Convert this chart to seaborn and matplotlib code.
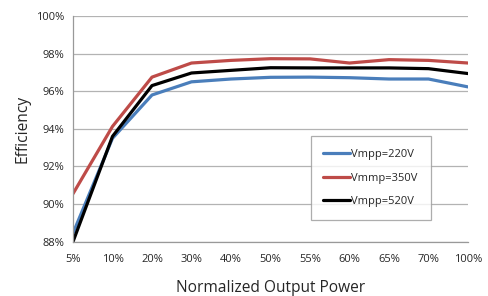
import matplotlib
matplotlib.use("Agg")
import matplotlib.pyplot as plt
import seaborn as sns
import pandas as pd
import numpy as np

categories = ["5%", "10%", "20%", "30%", "40%", "50%", "55%", "60%", "65%", "70%", "100%"]
v220 = [88.45, 93.5, 95.8, 96.5, 96.65, 96.74, 96.75, 96.72, 96.65, 96.65, 96.23]
v350 = [90.55, 94.13, 96.75, 97.5, 97.64, 97.73, 97.72, 97.5, 97.68, 97.64, 97.5]
v520 = [88.0, 93.6, 96.3, 96.97, 97.11, 97.25, 97.24, 97.24, 97.24, 97.2, 96.94]
series_names = ["Vmpp=220V", "Vmmp=350V", "Vmpp=520V"]
colors = ["#4A7EBB", "#BE4B48", "#000000"]
yticks = [88, 90, 92, 94, 96, 98, 100]

rows = []
for name, vals in zip(series_names, [v220, v350, v520]):
    for i, (c, v) in enumerate(zip(categories, vals)):
        rows.append({"pos": i, "cat": c, "eff": v, "series": name})
df = pd.DataFrame(rows)

sns.set_style("white")
plt.rcParams["font.family"] = ["Open Sans", "DejaVu Sans"]

fig = plt.figure(figsize=(4.88, 2.96), dpi=100)
ax_w = 468 - 73
ax_h = 241.7 - 16
ax = fig.add_axes([73/488, 1-241.7/296, ax_w/488, ax_h/296])

sns.lineplot(data=df, x="pos", y="eff", hue="series", palette=colors,
             hue_order=series_names, linewidth=2.3, ax=ax, sort=False)

ax.set_xlim(0, len(categories) - 1)
ax.set_ylim(88, 100)
ax.set_xticks(range(len(categories)))
ax.set_xticklabels(categories, fontsize=8)
ax.set_yticks(yticks)
ax.set_yticklabels([f"{t}%" for t in yticks], fontsize=8)
ax.grid(axis="y", color="#b3b3b3", linewidth=0.9)
ax.set_axisbelow(True)
for s in ["top", "right"]:
    ax.spines[s].set_visible(False)
for s in ["left", "bottom"]:
    ax.spines[s].set_color("#999999")
    ax.spines[s].set_linewidth(0.9)
ax.tick_params(axis="both", which="major", direction="out", length=3.5,
               color="#999999", width=0.9)
ax.tick_params(axis="x", pad=5)
ax.tick_params(axis="y", pad=3)
ax.set_xlabel("Normalized Output Power", fontsize=11.2, labelpad=11)
ax.set_ylabel("Efficiency", fontsize=11.2, labelpad=4)

# legend box: x 310.7..430.7, y 136..216 (pixels)
lx0 = (310.7 - 73) / ax_w
lw = 120 / ax_w
ly0 = (241.7 - 216) / ax_h
lh = 80 / ax_h
leg = ax.legend(loc="upper left", bbox_to_anchor=(lx0, ly0, lw, lh), mode="expand",
                fontsize=8, frameon=True, fancybox=False, edgecolor="#999999",
                handlelength=2.4, handletextpad=0.1, borderpad=1.15, labelspacing=1.15,
                borderaxespad=0)
leg.get_frame().set_linewidth(0.9)
for line in leg.get_lines():
    line.set_linewidth(2.3)

fig.savefig("out.png", dpi=100)
